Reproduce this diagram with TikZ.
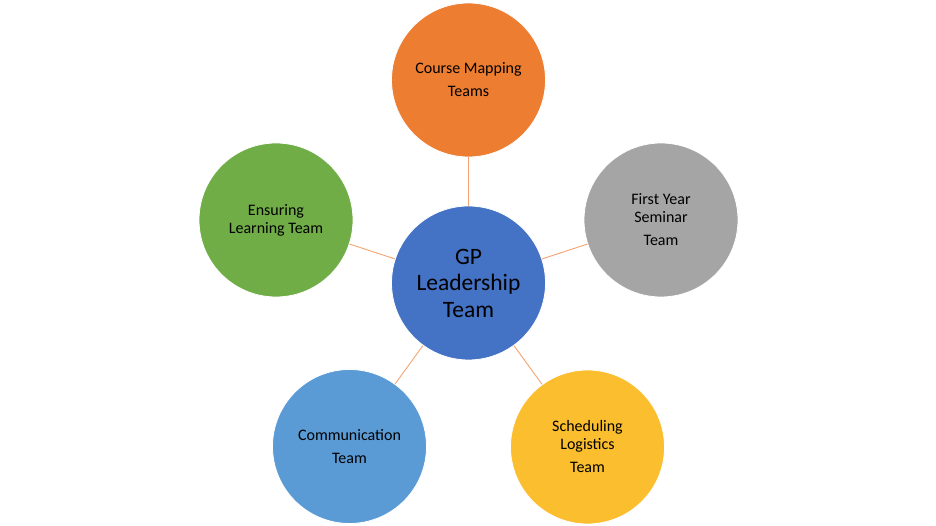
\documentclass[tikz,border=0pt]{standalone}
\usepackage{fontspec}
\setmainfont{Carlito}
\definecolor{hubblue}{HTML}{4472C4}
\definecolor{courseorange}{HTML}{ED7D31}
\definecolor{seminargray}{HTML}{A5A5A5}
\definecolor{ensuregreen}{HTML}{70AD47}
\definecolor{commblue}{HTML}{5B9BD5}
\definecolor{schedyellow}{HTML}{FBBE2E}
\definecolor{linkorange}{HTML}{F4A36E}

\begin{document}
\begin{tikzpicture}[x=1pt, y=1pt, team/.style={circle, draw=white, line width=0.8pt, minimum size=154pt, inner sep=0pt, align=center, font=\fontsize{16}{18}\selectfont}, hub/.style={team, fill=hubblue, font=\fontsize{23.5}{26.5}\selectfont}, link/.style={draw=linkorange, line width=0.9pt}]

\useasboundingbox (0,0) rectangle (936,526);
\node[hub] (lead) at (468.5,243) {GP\\Leadership\\Team};
\node[team, fill=courseorange] (course) at (468.5,446) {Course Mapping\\[5pt]Teams};
\node[team, fill=seminargray] (seminar) at (661,306) {First Year\\Seminar\\[5pt]Team};
\node[team, fill=ensuregreen] (ensure) at (276,306) {Ensuring\\Learning Team};
\node[team, fill=commblue] (comm) at (349.5,79.5) {Communication\\[5pt]Team};
\node[team, fill=schedyellow] (sched) at (587.5,79) {Scheduling\\Logistics\\[5pt]Team};
\draw[link] (lead) -- (course); \draw[link] (lead) -- (seminar); \draw[link] (lead) -- (ensure);
\draw[link] (lead) -- (comm); \draw[link] (lead) -- (sched);
\end{tikzpicture}
\end{document}
